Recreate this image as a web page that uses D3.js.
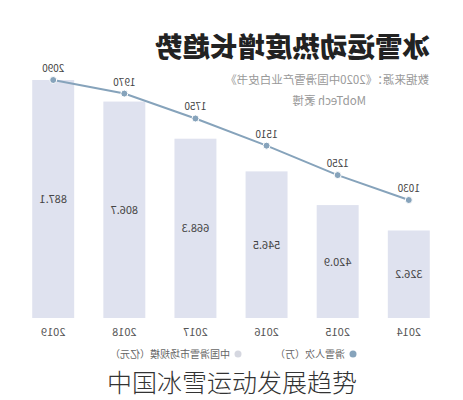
<!DOCTYPE html>
<html><head><meta charset="utf-8">
<script src="https://cdn.jsdelivr.net/npm/d3@7"></script>
<style>body{margin:0;background:#fff}text{font-family:"Noto Sans CJK SC","Noto Sans",sans-serif}</style>
</head><body><div id="chart"></div>
<script>
var years = ["2014","2015","2016","2017","2018","2019"];
var market = [326.2, 420.9, 546.5, 668.3, 806.7, 887.1];
var visits = [1030, 1250, 1510, 1750, 1970, 2090];

var w=463, h=400;
var svg=d3.select('#chart').append("svg").attr("width",w).attr("height",h);

// the picture is mirrored, so draw normally inside a flipped group
var g=svg.append("g").attr("transform","translate("+w+",0) scale(-1,1)");

var x=d3.scaleBand().domain(years).range([19,445]).paddingInner(0.41).paddingOuter(0.2);
var yb=d3.scaleLinear().domain([0,887.1]).range([318,80]);
var yl=d3.scaleLinear().domain([1030,2090]).range([200,80]);

g.selectAll(".bar").data(years).enter().append("rect")
  .attr("x",d=>x(d)).attr("width",x.bandwidth())
  .attr("y",(d,i)=>yb(market[i])).attr("height",(d,i)=>318-yb(market[i]))
  .attr("fill","#dfe2ef");

g.selectAll(".bv").data(years).enter().append("text")
  .attr("x",d=>x(d)+x.bandwidth()/2).attr("y",(d,i)=>(yb(market[i])+318)/2+4)
  .attr("text-anchor","middle").attr("font-size",11).attr("fill","#444")
  .text((d,i)=>market[i]);

var xa=g.append("g").attr("transform","translate(0,318)")
  .call(d3.axisBottom(x).tickSize(0).tickPadding(10));
xa.select(".domain").remove();
xa.selectAll("text").attr("font-size",11).attr("fill","#555").style("font-family","Noto Sans CJK SC");

var line=d3.line().x((d,i)=>x(years[i])+x.bandwidth()/2).y(d=>yl(d));
g.append("path").datum(visits).attr("d",line).attr("fill","none")
  .attr("stroke","#86a3bb").attr("stroke-width",2);
g.selectAll(".pt").data(visits).enter().append("circle")
  .attr("cx",(d,i)=>x(years[i])+x.bandwidth()/2).attr("cy",d=>yl(d)).attr("r",3.5)
  .attr("fill","#86a3bb").attr("stroke","#fff").attr("stroke-width",1);
g.selectAll(".pl").data(visits).enter().append("text")
  .attr("x",(d,i)=>x(years[i])+x.bandwidth()/2).attr("y",d=>yl(d)-8)
  .attr("text-anchor","middle").attr("font-size",10).attr("fill","#444").text(d=>d);

g.append("text").attr("x",33).attr("y",57).attr("font-size",27.5).attr("font-weight",900)
  .attr("fill","#222").text("冰雪运动热度增长趋势");
g.append("text").attr("x",34).attr("y",84).attr("font-size",11.5).attr("fill","#999")
  .text("数据来源：《2020中国滑雪产业白皮书》");
g.append("text").attr("x",97).attr("y",105).attr("font-size",11.5).attr("fill","#999")
  .text("MobTech 袤博");

var lg=g.append("g").attr("transform","translate(110,354)");
lg.append("circle").attr("cx",0).attr("cy",0).attr("r",3.5).attr("fill","#86a3bb");
lg.append("text").attr("x",8).attr("y",4).attr("font-size",10).attr("fill","#666").text("滑雪人次（万）");
lg.append("circle").attr("cx",115).attr("cy",0).attr("r",3.5).attr("fill","#d5d7e0");
lg.append("text").attr("x",123).attr("y",4).attr("font-size",10).attr("fill","#666").text("中国滑雪市场规模（亿元）");

svg.append("text").attr("x",232).attr("y",392).attr("text-anchor","middle")
  .attr("font-size",25).attr("font-weight",300).attr("fill","#333").text("中国冰雪运动发展趋势");
</script></body></html>
